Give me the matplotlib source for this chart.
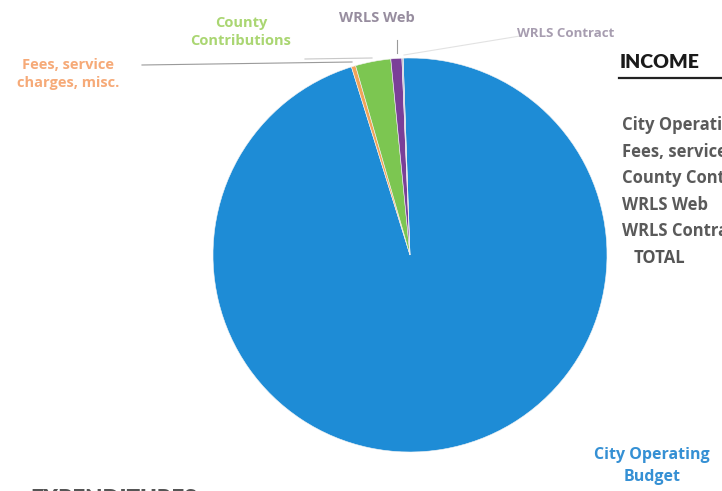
import matplotlib
matplotlib.use("Agg")
import matplotlib.pyplot as plt

# Income sources (share of total, %)
categories = ["City Operating Budget", "Fees, service charges, misc.",
              "County Contributions", "WRLS Web", "WRLS Contract"]
shares = [95.75, 0.35, 2.9, 0.9, 0.1]
slice_colors = ["#1E8CD6", "#F2A45A", "#7CC651", "#7A3F98", "#B9B0C2"]

table_title = "INCOME"
table_rows = ["City Operating Budget", "Fees, service charges, misc.",
              "County Contributions", "WRLS Web", "WRLS Contract"]
table_total = "TOTAL"

W, H = 722, 491
fig = plt.figure(figsize=(W / 100, H / 100), dpi=100)
ax = fig.add_axes([0, 0, 1, 1])


def py(y):
    """Convert a top-down pixel row to data y."""
    return H - y


ax.pie(shares, colors=slice_colors, startangle=92, counterclock=False,
       center=(410, py(255)), radius=197, frame=True,
       wedgeprops=dict(linewidth=0.4, edgecolor="#f4f4f4"))
ax.set_xlim(0, W)
ax.set_ylim(0, H)
ax.set_aspect("equal")
ax.axis("off")

lab_font = dict(family="Open Sans", fontweight="bold")

# Slice labels with leader lines
ax.text(68, py(74), "Fees, service\ncharges, misc.", color="#F6AA78",
        ha="center", va="center", linespacing=1.45, fontsize=10.5, **lab_font)
ax.plot([142, 352], [py(65), py(62)], color="#9a9a9a", lw=0.8)

ax.text(241, py(32), "County\nContributions", color="#AAD672",
        ha="center", va="center", linespacing=1.45, fontsize=10.5, **lab_font)
ax.plot([305, 372], [py(59), py(58)], color="#c8c8c8", lw=0.8)

ax.text(377, py(18), "WRLS Web", color="#978D9F",
        ha="center", va="center", fontsize=10.5, **lab_font)
ax.plot([397, 397], [py(40), py(53)], color="#9a9a9a", lw=0.8)

ax.text(566, py(33), "WRLS Contract", color="#A79DB0",
        ha="center", va="center", fontsize=9.5, **lab_font)
ax.plot([520, 404], [py(36), py(55)], color="#e2e2e2", lw=0.8)

ax.text(652, py(466), "City Operating\nBudget", color="#3590D4",
        ha="center", va="center", linespacing=1.45, fontsize=11.5, **lab_font)

# Income table beside the chart
ax.text(620, py(62), table_title, color="#1a1a1a", ha="left", va="center",
        family="Lato", fontweight="heavy", fontsize=14)
ax.plot([619, W], [py(78), py(78)], color="#222222", lw=1.6)
for i, row in enumerate(table_rows):
    ax.text(622, py(125 + 26.6 * i), row, color="#5a5a5a",
            ha="left", va="center", fontsize=12, **lab_font)
ax.text(634, py(258), table_total, color="#555555", ha="left", va="center",
        fontsize=12, **lab_font)

# Next section heading starting at the bottom edge
ax.text(30, py(489), "EXPENDITURES", color="#555555", ha="left", va="top",
        family="Lato", fontweight="heavy", fontsize=16)

fig.savefig("out.png", dpi=100, facecolor="white")
